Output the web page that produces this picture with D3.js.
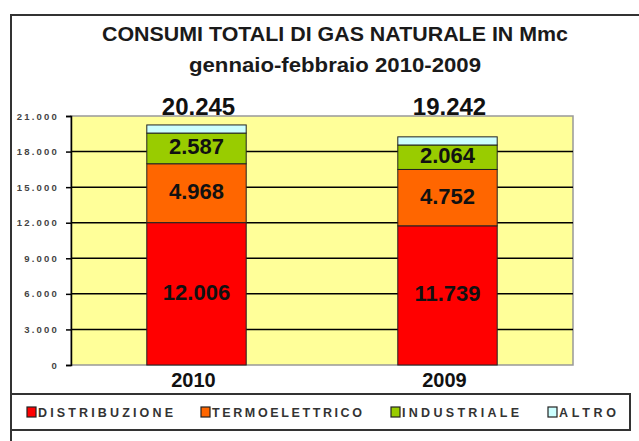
<!DOCTYPE html>
<html>
<head>
<meta charset="utf-8">
<script src="https://cdn.jsdelivr.net/npm/d3@7"></script>
<style>
  html, body { margin: 0; padding: 0; background: #fff; }
  svg { display: block; font-family: "Liberation Sans", Arial, sans-serif; }
</style>
</head>
<body>
<svg id="chart" width="639" height="441"></svg>
<script>
// data
const years = ["2010", "2009"]
const distribuzione = [12006, 11739]
const termoelettrico = [4968, 4752]
const industriale = [2587, 2064]
const altro = [684, 687]
const totals = [20245, 19242]
const seriesNames = ["DISTRIBUZIONE", "TERMOELETTRICO", "INDUSTRIALE", "ALTRO"]
const seriesColors = ["#ff0000", "#ff6600", "#99cc00", "#ccffff"]
const yTicks = [0, 3000, 6000, 9000, 12000, 15000, 18000, 21000]

const it = d3.formatLocale({decimal: ",", thousands: ".", grouping: [3], currency: ["", "€"]})
const fmt = it.format(",")

const rows = years.map((year, i) => ({
    year,
    DISTRIBUZIONE: distribuzione[i],
    TERMOELETTRICO: termoelettrico[i],
    INDUSTRIALE: industriale[i],
    ALTRO: altro[i]
}))

const plot = {left: 71, right: 573, top: 116, bottom: 365}

const svg = d3.select("#chart")

// outer frame (runs off the right/bottom edge)
svg.append("rect")
    .attr("x", 11).attr("y", 15)
    .attr("width", 700).attr("height", 500)
    .attr("fill", "none")
    .attr("stroke", "#333")
    .attr("stroke-width", 2)

// title
const title = svg.append("g")
    .attr("font-weight", "bold")
    .attr("font-size", 21)
    .attr("fill", "#1a1a1a")
    .attr("text-anchor", "middle")
title.append("text")
    .attr("x", 335).attr("y", 41)
    .attr("textLength", 466).attr("lengthAdjust", "spacingAndGlyphs")
    .text("CONSUMI TOTALI DI GAS NATURALE IN Mmc")
title.append("text")
    .attr("x", 335).attr("y", 72)
    .attr("textLength", 292).attr("lengthAdjust", "spacingAndGlyphs")
    .text("gennaio-febbraio 2010-2009")

const x = d3.scaleBand()
    .domain(years)
    .range([plot.left, plot.right])
    .paddingInner(0.604)
    .paddingOuter(0.302)

const y = d3.scaleLinear()
    .domain([0, 21000])
    .range([plot.bottom, plot.top])

// plot background
svg.append("rect")
    .attr("x", plot.left).attr("y", plot.top)
    .attr("width", plot.right - plot.left)
    .attr("height", plot.bottom - plot.top)
    .attr("fill", "#ffff99")
    .attr("stroke", "#999")
    .attr("stroke-width", 1.5)

// gridlines
svg.append("g")
    .selectAll("line")
    .data(yTicks.filter(t => t > 0 && t < 21000))
    .join("line")
    .attr("x1", plot.left).attr("x2", plot.right)
    .attr("y1", d => y(d)).attr("y2", d => y(d))
    .attr("stroke", "#000")
    .attr("stroke-width", 1.5)

// y axis
const yAxis = svg.append("g")
    .attr("transform", `translate(${plot.left},0)`)
    .call(d3.axisLeft(y).tickValues(yTicks).tickFormat(fmt).tickSize(5).tickPadding(7))
yAxis.select(".domain").attr("stroke", "#000").attr("stroke-width", 1.5)
yAxis.selectAll(".tick line").attr("stroke", "#000").attr("stroke-width", 1.5)
yAxis.selectAll(".tick text")
    .attr("font-family", "'Liberation Sans', Arial, sans-serif")
    .attr("font-size", 9.5)
    .attr("font-weight", "bold")
    .attr("fill", "#444")
    .attr("letter-spacing", 2.2)

// stacked bars
const stacked = d3.stack().keys(seriesNames)(rows)
const color = d3.scaleOrdinal().domain(seriesNames).range(seriesColors)

const layers = svg.append("g")
    .selectAll("g")
    .data(stacked)
    .join("g")
    .attr("fill", d => color(d.key))

layers.selectAll("rect")
    .data(d => d)
    .join("rect")
    .attr("x", d => x(d.data.year))
    .attr("y", d => y(d[1]))
    .attr("width", x.bandwidth())
    .attr("height", d => y(d[0]) - y(d[1]))
    .attr("stroke", "#222")
    .attr("stroke-width", 1)

// segment labels (not on ALTRO)
layers.filter(d => d.key !== "ALTRO")
    .selectAll("text")
    .data(d => d)
    .join("text")
    .attr("x", d => x(d.data.year) + x.bandwidth() / 2)
    .attr("y", d => (y(d[0]) + y(d[1])) / 2 + 6)
    .attr("text-anchor", "middle")
    .attr("font-size", 22)
    .attr("font-weight", "bold")
    .attr("fill", "#111")
    .text(d => fmt(d[1] - d[0]))

// totals above the plot
svg.append("g")
    .selectAll("text")
    .data(years)
    .join("text")
    .attr("x", d => x(d) + x.bandwidth() / 2 + 2)
    .attr("y", 115)
    .attr("text-anchor", "middle")
    .attr("font-size", 24)
    .attr("font-weight", "bold")
    .attr("fill", "#111")
    .text((d, i) => fmt(totals[i]))

// category labels
svg.append("g")
    .selectAll("text")
    .data(years)
    .join("text")
    .attr("x", d => x(d) + x.bandwidth() / 2 - 3)
    .attr("y", 387)
    .attr("text-anchor", "middle")
    .attr("font-size", 20)
    .attr("font-weight", "bold")
    .attr("fill", "#111")
    .text(d => d)

// legend
svg.append("rect")
    .attr("x", 11).attr("y", 394)
    .attr("width", 619).attr("height", 36)
    .attr("fill", "#fff")
    .attr("stroke", "#333")
    .attr("stroke-width", 2)

const legendX = [27, 201, 391, 548]
const legendW = [135, 150, 117, 57]
const legend = svg.append("g")
    .selectAll("g")
    .data(seriesNames)
    .join("g")
    .attr("transform", (d, i) => `translate(${legendX[i]},407)`)
legend.append("rect")
    .attr("width", 9).attr("height", 10)
    .attr("fill", d => color(d))
    .attr("stroke", "#222")
    .attr("stroke-width", 1.2)
legend.append("text")
    .attr("x", 11).attr("y", 10)
    .attr("font-size", 12.5)
    .attr("font-weight", "bold")
    .attr("fill", "#333")
    .attr("textLength", (d, i) => legendW[i])
    .attr("lengthAdjust", "spacing")
    .text(d => d)
</script>
</body>
</html>
